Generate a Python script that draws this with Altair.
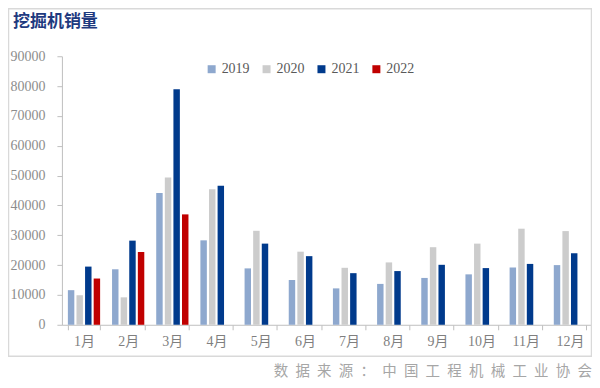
import altair as alt
import pandas as pd

months = ["1月", "2月", "3月", "4月", "5月", "6月", "7月", "8月", "9月", "10月", "11月", "12月"]
years = ["2019", "2020", "2021", "2022"]
v2019 = [11600, 18600, 44200, 28300, 18900, 15000, 12200, 13700, 15700, 16900, 19200, 20000]
v2020 = [9900, 9200, 49400, 45400, 31500, 24500, 19100, 20900, 26000, 27200, 32200, 31400]
v2021 = [19500, 28200, 78900, 46600, 27200, 23000, 17300, 18000, 20100, 19000, 20400, 24000]
v2022 = [15500, 24400, 37000]
colors = ["#8EA8CE", "#CCCCCC", "#003A8C", "#C00000"]
title_text = "挖掘机销量"
source_text = "数\u2002据\u2002来\u2002源\u2002：\u2002中\u2002国\u2002工\u2002程\u2002机\u2002械\u2002工\u2002业\u2002协\u2002会"

rows = []
for yr, vals in zip(years, [v2019, v2020, v2021, v2022]):
    for m, v in zip(months, vals):
        rows.append({"month": m, "year": yr, "value": v})
df = pd.DataFrame(rows)

W, H = 531, 269
serif = "Liberation Serif, Noto Sans CJK SC"

bars = alt.Chart(df).mark_bar().encode(
    x=alt.X("month:N", sort=months, title=None,
            scale=alt.Scale(paddingInner=0.27, paddingOuter=0.135),
            axis=alt.Axis(labelAngle=0, tickBand="extent", domainColor="#bfbfbf",
                          tickColor="#bfbfbf", tickSize=5, labelColor="#7f7f7f",
                          labelFont=serif, labelFontSize=14, labelPadding=5)),
    xOffset=alt.XOffset("year:N", sort=years, scale=alt.Scale(paddingInner=0.25)),
    y=alt.Y("value:Q", title=None,
            scale=alt.Scale(domain=[0, 90000]),
            axis=alt.Axis(values=list(range(0, 90001, 10000)), grid=False, format="d",
                          domainColor="#bfbfbf", tickColor="#bfbfbf", tickSize=5,
                          labelColor="#8c8c8c", labelFont=serif, labelFontSize=14,
                          labelPadding=12)),
    color=alt.Color("year:N", sort=years,
                    scale=alt.Scale(domain=years, range=colors),
                    legend=alt.Legend(title=None, orient="none", direction="horizontal",
                                      legendX=143, legendY=6, symbolType="square",
                                      symbolSize=64, symbolStrokeWidth=0,
                                      labelFont=serif, labelFontSize=14,
                                      labelColor="#595959", columnPadding=10,
                                      labelOffset=3)),
)

frame = alt.Chart(pd.DataFrame({"a": [0]})).mark_rect(
    fill=None, stroke="#d9d9d9", strokeWidth=1.5, clip=False
).encode(
    x=alt.value(-53.5), x2=alt.value(530.5), y=alt.value(-47.5), y2=alt.value(300.5)
)

title = alt.Chart(pd.DataFrame({"t": [title_text]})).mark_text(
    align="left", baseline="middle", fontSize=17, fontWeight="bold",
    color="#1F3A7F", font="Noto Sans CJK SC"
).encode(text="t:N", x=alt.value(-49), y=alt.value(-34))

source = alt.Chart(pd.DataFrame({"t": [source_text]})).mark_text(
    align="right", baseline="middle", fontSize=14.5, color="#a6a6a6",
    font="Noto Sans CJK SC"
).encode(text="t:N", x=alt.value(531), y=alt.value(316))

chart = alt.layer(frame, bars, title, source).properties(
    width=W, height=H,
    autosize=alt.AutoSizeParams(type="none"),
    padding={"left": 54, "top": 48, "right": 0, "bottom": 60},
).configure_view(stroke=None)

chart.save("out.html", embed_options={"renderer": "svg", "actions": False})
